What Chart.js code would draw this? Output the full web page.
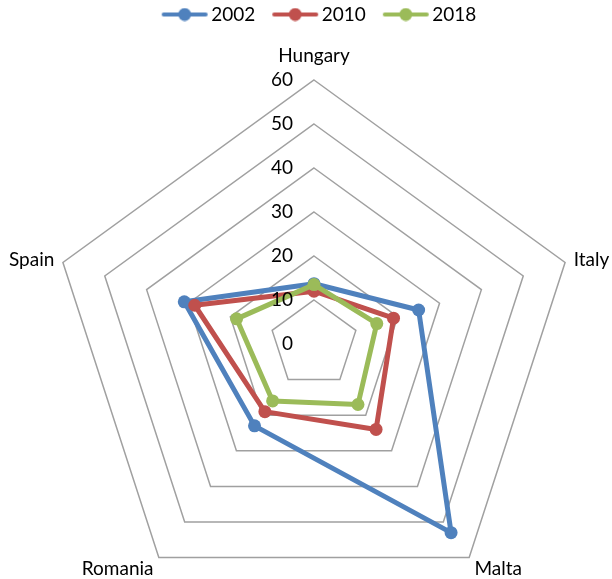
<!DOCTYPE html>
<html>
<head>
<meta charset="utf-8">
<script src="https://cdn.jsdelivr.net/npm/chart.js@4/dist/chart.umd.min.js"></script>
<style>
  html, body { margin: 0; padding: 0; background: #ffffff; }
  #wrap { width: 612px; height: 579px; }
</style>
</head>
<body>
<div id="wrap"><canvas id="c" width="612" height="579"></canvas></div>
<script>
// Categories, series and tick values
const countries = ['Hungary', 'Italy', 'Malta', 'Romania', 'Spain'];
const years = ['2002', '2010', '2018'];
const values2002 = [13.7, 25, 53, 23, 31];
const values2010 = [12, 19, 24, 19, 28.5];
const values2018 = [13.5, 15, 17, 16, 18.5];
const tickValues = [0, 10, 20, 30, 40, 50, 60];

const seriesColors = ['#4f81bd', '#c0504d', '#9bbb59'];
const FONT = 'Lato, "Open Sans", sans-serif';
const FONT_SIZE = 19;

// Web geometry (centre and outer radius of the 60 ring)
const WEB = { x: 314, y: 344, radius: 264 };

// Legend markers: a short line with a dot in the middle
function makeMarker(color) {
  const cv = document.createElement('canvas');
  cv.width = 48; cv.height = 14;
  const g = cv.getContext('2d');
  g.strokeStyle = color; g.lineWidth = 4; g.lineCap = 'round';
  g.beginPath(); g.moveTo(3, 7); g.lineTo(45, 7); g.stroke();
  g.fillStyle = color;
  g.beginPath(); g.arc(24, 7, 6.5, 0, Math.PI * 2); g.fill();
  return cv;
}
const markers = seriesColors.map(makeMarker);

// Value labels beside the vertical axis and category names round the web
const webLabels = {
  id: 'webLabels',
  afterDatasetsDraw(chart) {
    const s = chart.scales.r;
    const ctx = chart.ctx;
    ctx.save();
    ctx.font = FONT_SIZE + 'px ' + FONT;
    ctx.fillStyle = '#000000';
    ctx.textAlign = 'right';
    ctx.textBaseline = 'middle';
    tickValues.forEach(v => {
      const d = s.getDistanceFromCenterForValue(v);
      ctx.fillText(String(v), s.xCenter - 21, s.yCenter - d);
    });
    chart.data.labels.forEach((label, i) => {
      const p = s.getPointPosition(i, s.drawingArea + 9);
      const c = Math.cos(p.angle), sn = Math.sin(p.angle);
      ctx.textAlign = Math.abs(c) < 0.2 ? 'center' : (c > 0 ? 'left' : 'right');
      let y = p.y;
      if (sn < -0.9) y -= 15;
      else if (sn > 0.5) y += 4;
      ctx.fillText(label, p.x, y);
    });
    ctx.restore();
  }
};

const seriesValues = [values2002, values2010, values2018];

new Chart(document.getElementById('c'), {
  type: 'radar',
  data: {
    labels: countries,
    datasets: years.map((y, i) => ({
      label: y,
      data: seriesValues[i],
      borderColor: seriesColors[i],
      backgroundColor: seriesColors[i],
      borderWidth: 5,
      borderJoinStyle: 'round',
      fill: false,
      pointRadius: 6.5,
      pointHoverRadius: 6.5,
      pointBorderWidth: 0,
      pointBackgroundColor: seriesColors[i],
      order: years.length - i,
      clip: false
    }))
  },
  options: {
    responsive: false,
    devicePixelRatio: 1,
    animation: false,
    layout: { padding: { top: -18, left: 32, right: 0, bottom: 0 } },
    plugins: {
      tooltip: { enabled: false },
      legend: {
        position: 'top',
        labels: {
          usePointStyle: true,
          pointStyleWidth: 34,
          padding: 23,
          color: '#000000',
          font: { family: FONT, size: FONT_SIZE },
          generateLabels(chart) {
            return chart.data.datasets.map((ds, i) => ({
              text: ds.label,
              pointStyle: markers[i],
              fillStyle: ds.borderColor,
              strokeStyle: ds.borderColor,
              lineWidth: 0,
              hidden: !chart.isDatasetVisible(i),
              datasetIndex: i
            }));
          }
        }
      }
    },
    scales: {
      r: {
        min: 0,
        max: 60,
        ticks: { stepSize: 10, display: false },
        grid: { color: '#a0a0a0', lineWidth: 1.5 },
        angleLines: { display: false },
        pointLabels: { display: false },
        afterFit(scale) {
          scale.xCenter = WEB.x;
          scale.yCenter = WEB.y;
          scale.drawingArea = WEB.radius;
        }
      }
    }
  },
  plugins: [webLabels]
});
</script>
</body>
</html>
